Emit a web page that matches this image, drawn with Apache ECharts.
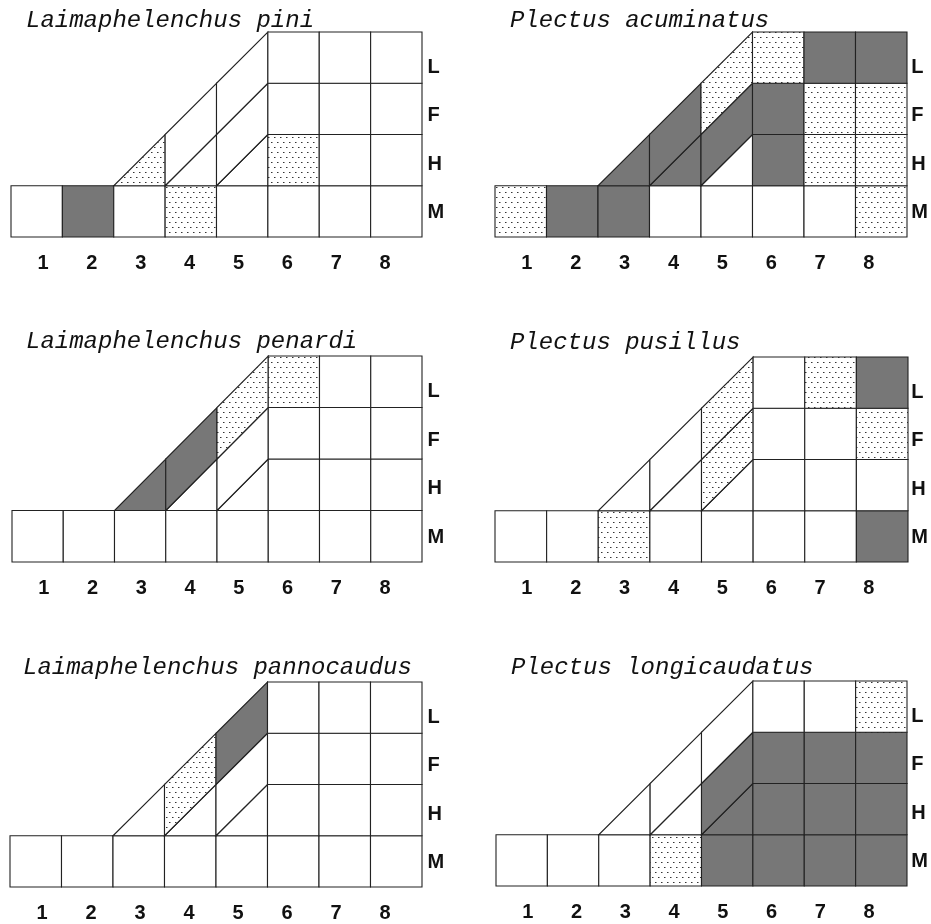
<!DOCTYPE html>
<html>
<head>
<meta charset="utf-8">
<script src="https://cdn.jsdelivr.net/npm/echarts@6/dist/echarts.min.js"></script>
<style>
  html, body { margin: 0; padding: 0; background: #fff; }
  #chart { width: 931px; height: 924px; }
</style>
</head>
<body>
<div id="chart"></div>
<script>
const species = [
  "Laimaphelenchus pini",
  "Plectus acuminatus",
  "Laimaphelenchus penardi",
  "Plectus pusillus",
  "Laimaphelenchus pannocaudus",
  "Plectus longicaudatus"
];
const colLabels = ["1", "2", "3", "4", "5", "6", "7", "8"];
const layerLabels = ["M", "H", "F", "L"];

// 0 = absent (blank), 1 = present (dotted), 2 = frequent (dark)
// M: sites 1-8, H: sites 5-8, F: sites 4-8, L: sites 3-8
const piniM = [0, 2, 0, 1, 0, 0, 0, 0];
const piniH = [0, 1, 0, 0];
const piniF = [0, 0, 0, 0, 0];
const piniL = [1, 0, 0, 0, 0, 0];

const acuminatusM = [1, 2, 2, 0, 0, 0, 0, 1];
const acuminatusH = [0, 2, 1, 1];
const acuminatusF = [2, 2, 2, 1, 1];
const acuminatusL = [2, 2, 1, 1, 2, 2];

const penardiM = [0, 0, 0, 0, 0, 0, 0, 0];
const penardiH = [0, 0, 0, 0];
const penardiF = [0, 0, 0, 0, 0];
const penardiL = [2, 2, 1, 1, 0, 0];

const pusillusM = [0, 0, 1, 0, 0, 0, 0, 2];
const pusillusH = [0, 0, 0, 0];
const pusillusF = [0, 1, 0, 0, 1];
const pusillusL = [0, 0, 1, 0, 1, 2];

const pannocaudusM = [0, 0, 0, 0, 0, 0, 0, 0];
const pannocaudusH = [0, 0, 0, 0];
const pannocaudusF = [0, 0, 0, 0, 0];
const pannocaudusL = [0, 1, 2, 0, 0, 0];

const longicaudatusM = [0, 0, 0, 1, 2, 2, 2, 2];
const longicaudatusH = [2, 2, 2, 2];
const longicaudatusF = [0, 2, 2, 2, 2];
const longicaudatusL = [0, 0, 0, 0, 0, 1];

// [col, layer, state] list for one species
function cells(M, H, F, L) {
  const out = [];
  M.forEach((s, i) => out.push([i + 1, 0, s]));
  H.forEach((s, i) => out.push([i + 5, 1, s]));
  F.forEach((s, i) => out.push([i + 4, 2, s]));
  L.forEach((s, i) => out.push([i + 3, 3, s]));
  return out;
}

const panelData = [
  cells(piniM, piniH, piniF, piniL),
  cells(acuminatusM, acuminatusH, acuminatusF, acuminatusL),
  cells(penardiM, penardiH, penardiF, penardiL),
  cells(pusillusM, pusillusH, pusillusF, pusillusL),
  cells(pannocaudusM, pannocaudusH, pannocaudusF, pannocaudusL),
  cells(longicaudatusM, longicaudatusH, longicaudatusF, longicaudatusL)
];

// layout of each panel (pixels)
const frames = [
  { left: 11, top: 32, width: 411, height: 205, tx: 26, ty: 9 },
  { left: 495, top: 32, width: 412, height: 205, tx: 510, ty: 9 },
  { left: 12, top: 356, width: 410, height: 206, tx: 26, ty: 330 },
  { left: 495, top: 357, width: 413, height: 205, tx: 510, ty: 331 },
  { left: 10, top: 682, width: 412, height: 205, tx: 23, ty: 656 },
  { left: 496, top: 681, width: 411, height: 205, tx: 511, ty: 656 }
];

// dotted fill
const dotCanvas = document.createElement("canvas");
dotCanvas.width = 6;
dotCanvas.height = 10;
const dctx = dotCanvas.getContext("2d");
dctx.fillStyle = "#fff";
dctx.fillRect(0, 0, 6, 10);
dctx.fillStyle = "#333";
dctx.fillRect(1, 2, 1, 1);
dctx.fillRect(4, 7, 1, 1);
dctx.fillStyle = "#999";
dctx.fillRect(2, 2, 1, 1);
dctx.fillRect(5, 7, 1, 1);

const fills = ["#fff", { image: dotCanvas, repeat: "repeat" }, "#777"];

function renderCell(params, api) {
  const col = api.value(0);
  const k = api.value(1);
  const st = api.value(2);
  let pts;
  if (k === 0) {
    pts = [[col - 1, 0], [col, 0], [col, 1], [col - 1, 1]];
  } else {
    // layers slope up from site 3 to site 6
    const x0 = Math.max(col - 1, 5 - k);
    const x1 = col;
    const top = x => Math.min(k + 1, x - 4 + k);
    const bot = x => Math.min(k, Math.max(1, x - 5 + k));
    pts = [[x0, bot(x0)], [x1, bot(x1)], [x1, top(x1)], [x0, top(x0)]];
  }
  return {
    type: "polygon",
    shape: { points: pts.map(p => api.coord(p)) },
    style: { fill: fills[st], stroke: "#222", lineWidth: 1.1 }
  };
}

const grids = [], xAxes = [], yAxes = [], series = [], titles = [];
frames.forEach((f, i) => {
  grids.push({ left: f.left, top: f.top, width: f.width, height: f.height });
  // label grid, slightly tighter than the drawing
  grids.push({ left: f.left + 7.5, top: f.top + 11, width: f.width - 20, height: f.height - 11 });

  xAxes.push({ gridIndex: 2 * i, type: "value", min: 0, max: 8, show: false });
  yAxes.push({ gridIndex: 2 * i, type: "value", min: 0, max: 4, show: false });

  xAxes.push({
    gridIndex: 2 * i + 1, type: "category", data: colLabels,
    axisLine: { show: false }, axisTick: { show: false }, splitLine: { show: false },
    axisLabel: { margin: 16, fontFamily: "Liberation Sans", fontWeight: "bold", fontSize: 20, color: "#111" }
  });
  yAxes.push({
    gridIndex: 2 * i + 1, type: "category", data: layerLabels, position: "right",
    axisLine: { show: false }, axisTick: { show: false }, splitLine: { show: false },
    axisLabel: { margin: 18, fontFamily: "Liberation Sans", fontWeight: "bold", fontSize: 20, color: "#111" }
  });

  series.push({
    type: "custom",
    coordinateSystem: "cartesian2d",
    xAxisIndex: 2 * i,
    yAxisIndex: 2 * i,
    data: panelData[i],
    renderItem: renderCell,
    silent: true
  });

  titles.push({
    text: species[i],
    left: f.tx,
    top: f.ty,
    padding: 0,
    textStyle: { fontFamily: "Liberation Mono", fontStyle: "italic", fontWeight: "normal", fontSize: 24, color: "#111" }
  });
});

const chart = echarts.init(document.getElementById("chart"));
chart.setOption({
  backgroundColor: "#fff",
  animation: false,
  title: titles,
  grid: grids,
  xAxis: xAxes,
  yAxis: yAxes,
  series: series
});
</script>
</body>
</html>
